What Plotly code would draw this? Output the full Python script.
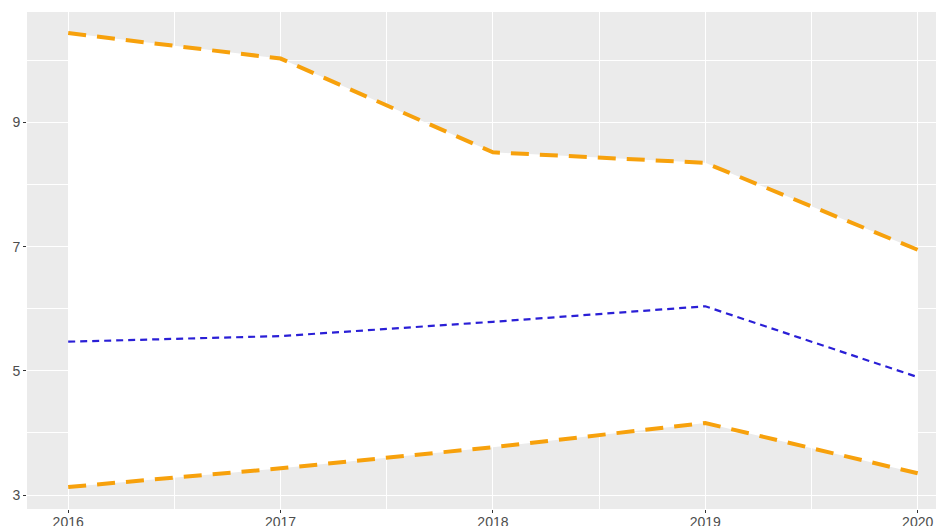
import plotly.graph_objects as go

years = [2016, 2017, 2018, 2019, 2020]
upper = [10.44, 10.03, 8.52, 8.35, 6.95]
middle = [5.47, 5.56, 5.79, 6.04, 4.90]
lower = [3.13, 3.43, 3.77, 4.16, 3.35]

x_ticks = [2016, 2017, 2018, 2019, 2020]
y_ticks = [3, 5, 7, 9]

ORANGE = "#F7A10C"
BLUE = "#2A1FD6"

fig = go.Figure()
# white ribbon between lower and upper
fig.add_trace(go.Scatter(x=years, y=lower, mode="lines", line=dict(width=0, color="white"),
                         showlegend=False, hoverinfo="skip"))
fig.add_trace(go.Scatter(x=years, y=upper, mode="lines", line=dict(width=0, color="white"),
                         fill="tonexty", fillcolor="white", showlegend=False, hoverinfo="skip"))
# bounds
fig.add_trace(go.Scatter(x=years, y=upper, mode="lines",
                         line=dict(color=ORANGE, width=4, dash="18px,11px"), showlegend=False))
fig.add_trace(go.Scatter(x=years, y=lower, mode="lines",
                         line=dict(color=ORANGE, width=4, dash="18px,11px"), showlegend=False))
# central estimate
fig.add_trace(go.Scatter(x=years, y=middle, mode="lines",
                         line=dict(color=BLUE, width=2.2, dash="7px,5px"), showlegend=False))

# the page body has an 8px margin, so the figure is sized to fill the rest of the window
fig.update_layout(
    width=936, height=518,
    margin=dict(l=19, r=0, t=4, b=17, autoexpand=False),
    paper_bgcolor="white",
    plot_bgcolor="#EBEBEB",
    font=dict(family="Liberation Sans, Arial, sans-serif", size=14, color="#4D4D4D"),
    showlegend=False,
)
fig.update_xaxes(
    range=[2015.806, 2020.124], tickmode="array", tickvals=x_ticks,
    ticktext=[str(v) for v in x_ticks],
    showgrid=True, gridcolor="white", gridwidth=1.1, zeroline=False,
    ticks="outside", ticklen=3, tickwidth=1, tickcolor="#333333",
    ticklabelstandoff=-3,
    minor=dict(tickmode="array", tickvals=[2015.5 + i for i in range(6)], showgrid=True,
               gridcolor="white", gridwidth=0.6, ticks=""),
    showline=False,
)
fig.update_yaxes(
    range=[2.775, 10.78], tickmode="array", tickvals=y_ticks,
    ticktext=[str(v) for v in y_ticks],
    showgrid=True, gridcolor="white", gridwidth=1.1, zeroline=False,
    ticks="outside", ticklen=3, tickwidth=1, tickcolor="#333333",
    minor=dict(tickmode="array", tickvals=[4, 6, 8, 10], showgrid=True,
               gridcolor="white", gridwidth=0.6, ticks=""),
    showline=False,
)

fig.write_html("out.html")
